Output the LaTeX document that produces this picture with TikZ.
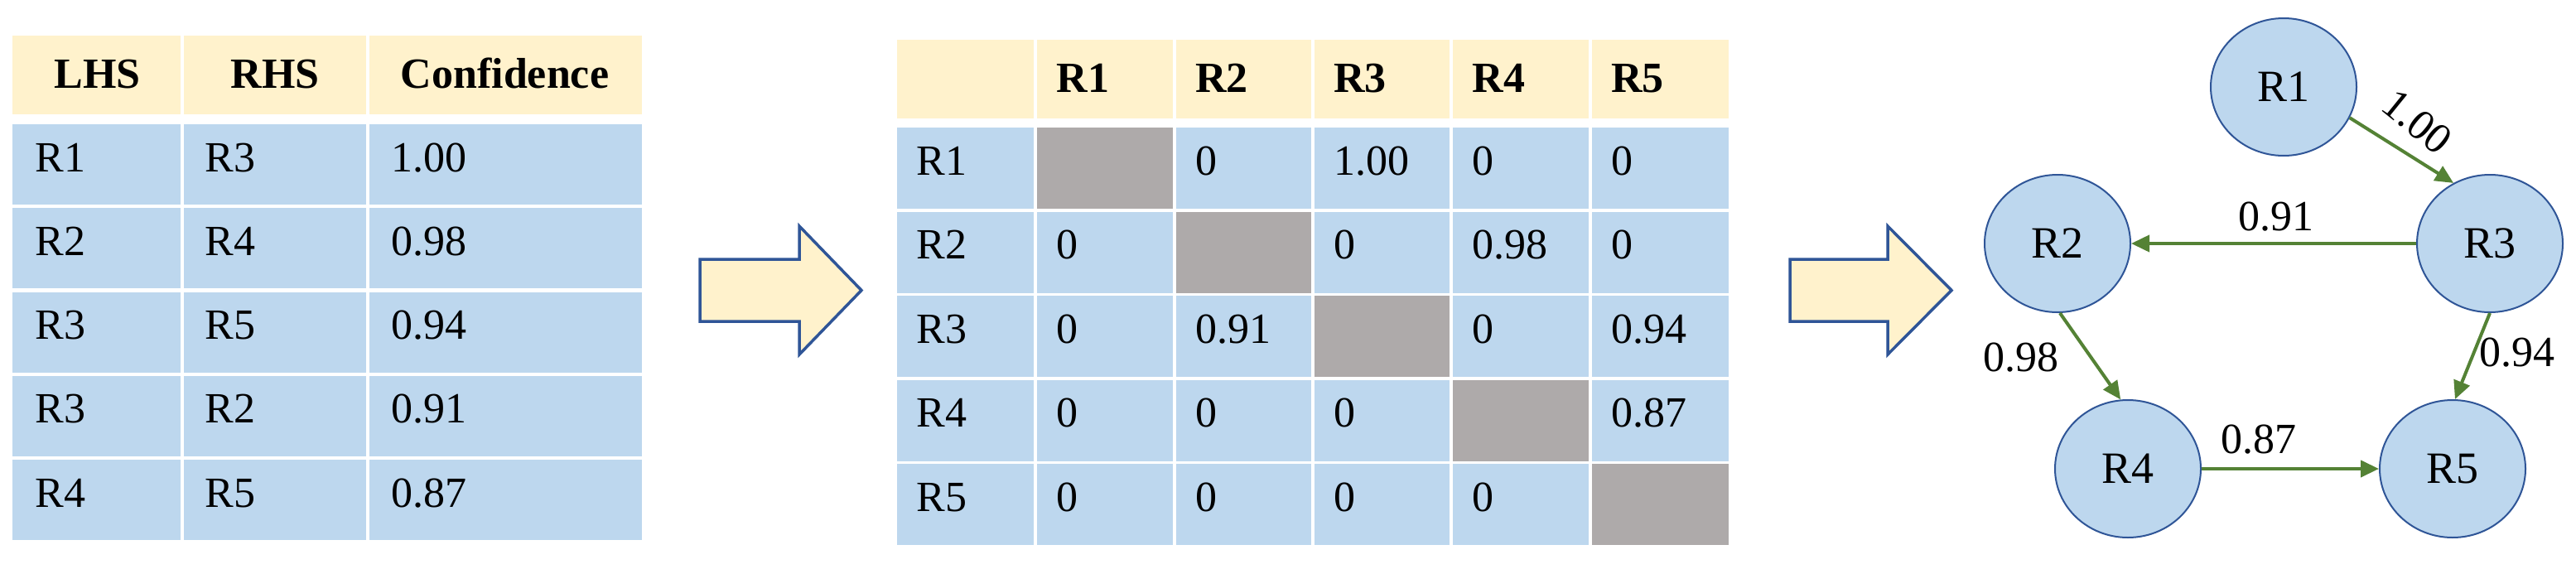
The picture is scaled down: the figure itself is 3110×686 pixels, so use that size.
\documentclass[tikz,border=0pt]{standalone}
\usepackage{fontspec}
\setmainfont{Liberation Serif}
\usetikzlibrary{arrows.meta,shapes.geometric}
\definecolor{hdr}{HTML}{FFF2CC}
\definecolor{cellblue}{HTML}{BDD7EE}
\definecolor{cellgray}{HTML}{AEAAAA}
\definecolor{bord}{HTML}{2F5597}
\definecolor{edgegreen}{HTML}{548235}
\begin{document}
\begin{tikzpicture}[x=0.5pt,y=-0.5pt,
  cell/.style={anchor=base west, inner sep=0pt, font=\fontsize{26}{31}\selectfont},
  hcell/.style={anchor=base west, inner sep=0pt, font=\fontsize{26}{31}\selectfont\bfseries},
  rnode/.style={ellipse, draw=bord, line width=1pt, fill=cellblue, minimum width=88pt, minimum height=83pt, inner sep=0pt, font=\fontsize{27}{32}\selectfont},
  link/.style={draw=edgegreen, line width=2pt, -{Triangle[length=11pt,width=10pt]}},
  elabel/.style={inner sep=0pt, font=\fontsize{26}{31}\selectfont},
  blockarrow/.style={draw=bord, line width=1.75pt, fill=hdr, line join=miter}]
\useasboundingbox (0,0) rectangle (3110,686);
\fill[white] (0,0) rectangle (3110,686);

% ---------- Table 1 ----------
\fill[hdr] (15,43) rectangle (775,138);
\foreach \i in {0,...,4} \fill[cellblue] (15,{150+\i*101.25}) rectangle (775,{247+\i*101.25});
\foreach \x in {220,444} \fill[white] ({\x-2},40) rectangle ({\x+2},656);
\node[hcell, anchor=base] (t1h1) at (117.5,106) {LHS};
\node[hcell, anchor=base] (t1h2) at (332,106) {RHS};
\node[hcell, anchor=base] (t1h3) at (609.5,106) {Confidence};
\foreach \a/\b/\c [count=\i from 0] in {R1/R3/1.00, R2/R4/0.98, R3/R5/0.94, R3/R2/0.91, R4/R5/0.87} {
  \node[cell] (t1a\i) at (42,{207+\i*101.25}) {\a};
  \node[cell] (t1b\i) at (247,{207+\i*101.25}) {\b};
  \node[cell] (t1c\i) at (472,{207+\i*101.25}) {\c};
}

% ---------- Block arrows ----------
\draw[blockarrow] (845,313) -- (965,313) -- (965,273) -- (1040,350.5) -- (965,428) -- (965,388) -- (845,388) -- cycle;
\draw[blockarrow] (2161,313) -- (2279,313) -- (2279,273) -- (2356,350.5) -- (2279,428) -- (2279,388) -- (2161,388) -- cycle;

% ---------- Table 2 ----------
\fill[hdr] (1083,48) rectangle (2087,143);
\foreach \i in {0,...,4} {
  \fill[cellblue] (1083,{154+\i*101.6}) rectangle (2087,{252+\i*101.6});
  \fill[cellgray] ({1083+(\i+1)*167.33},{154+\i*101.6}) rectangle ({1083+(\i+2)*167.33},{252+\i*101.6});
}
\foreach \j in {1,...,5} \fill[white] ({1083+\j*167.33-2},45) rectangle ({1083+\j*167.33+2},662);
\foreach \j in {1,...,5} \node[hcell] (t2h\j) at ({1083+\j*167.33+25},111) {R\j};
\foreach \j in {1,...,5} \node[cell] (t2r\j) at (1106,{211+(\j-1)*101.6}) {R\j};
% row R1
\node[cell] (m12) at (1443,211) {0};
\node[cell] (m13) at (1610,211) {1.00};
\node[cell] (m14) at (1777,211) {0};
\node[cell] (m15) at (1945,211) {0};
% row R2
\node[cell] (m21) at (1275,312.6) {0};
\node[cell] (m23) at (1610,312.6) {0};
\node[cell] (m24) at (1777,312.6) {0.98};
\node[cell] (m25) at (1945,312.6) {0};
% row R3
\node[cell] (m31) at (1275,414.2) {0};
\node[cell] (m32) at (1443,414.2) {0.91};
\node[cell] (m34) at (1777,414.2) {0};
\node[cell] (m35) at (1945,414.2) {0.94};
% row R4
\node[cell] (m41) at (1275,515.8) {0};
\node[cell] (m42) at (1443,515.8) {0};
\node[cell] (m43) at (1610,515.8) {0};
\node[cell] (m45) at (1945,515.8) {0.87};
% row R5
\node[cell] (m51) at (1275,617.4) {0};
\node[cell] (m52) at (1443,617.4) {0};
\node[cell] (m53) at (1610,617.4) {0};
\node[cell] (m54) at (1777,617.4) {0};

% ---------- Graph ----------
\node[rnode] (R1) at (2757,105) {R1};
\node[rnode] (R2) at (2484,294) {R2};
\node[rnode] (R3) at (3006,294) {R3};
\node[rnode] (R4) at (2569,566) {R4};
\node[rnode] (R5) at (2961,566) {R5};

\draw[link] (R1.-25) -- (R3.121);
\draw[link] (R3.west) -- (R2.east);
\draw[link] (R2.-88) -- (R4.96);
\draw[link] (R3.-90) -- (R5.88);
\draw[link] (R4.east) -- (R5.west);

\node[elabel, rotate=-39] (l13) at (2918,147) {1.00};
\node[elabel] (l32) at (2748,262) {0.91};
\node[elabel] (l24) at (2440,432) {0.98};
\node[elabel] (l35) at (3039,426) {0.94};
\node[elabel] (l45) at (2727,531) {0.87};
\end{tikzpicture}
\end{document}
